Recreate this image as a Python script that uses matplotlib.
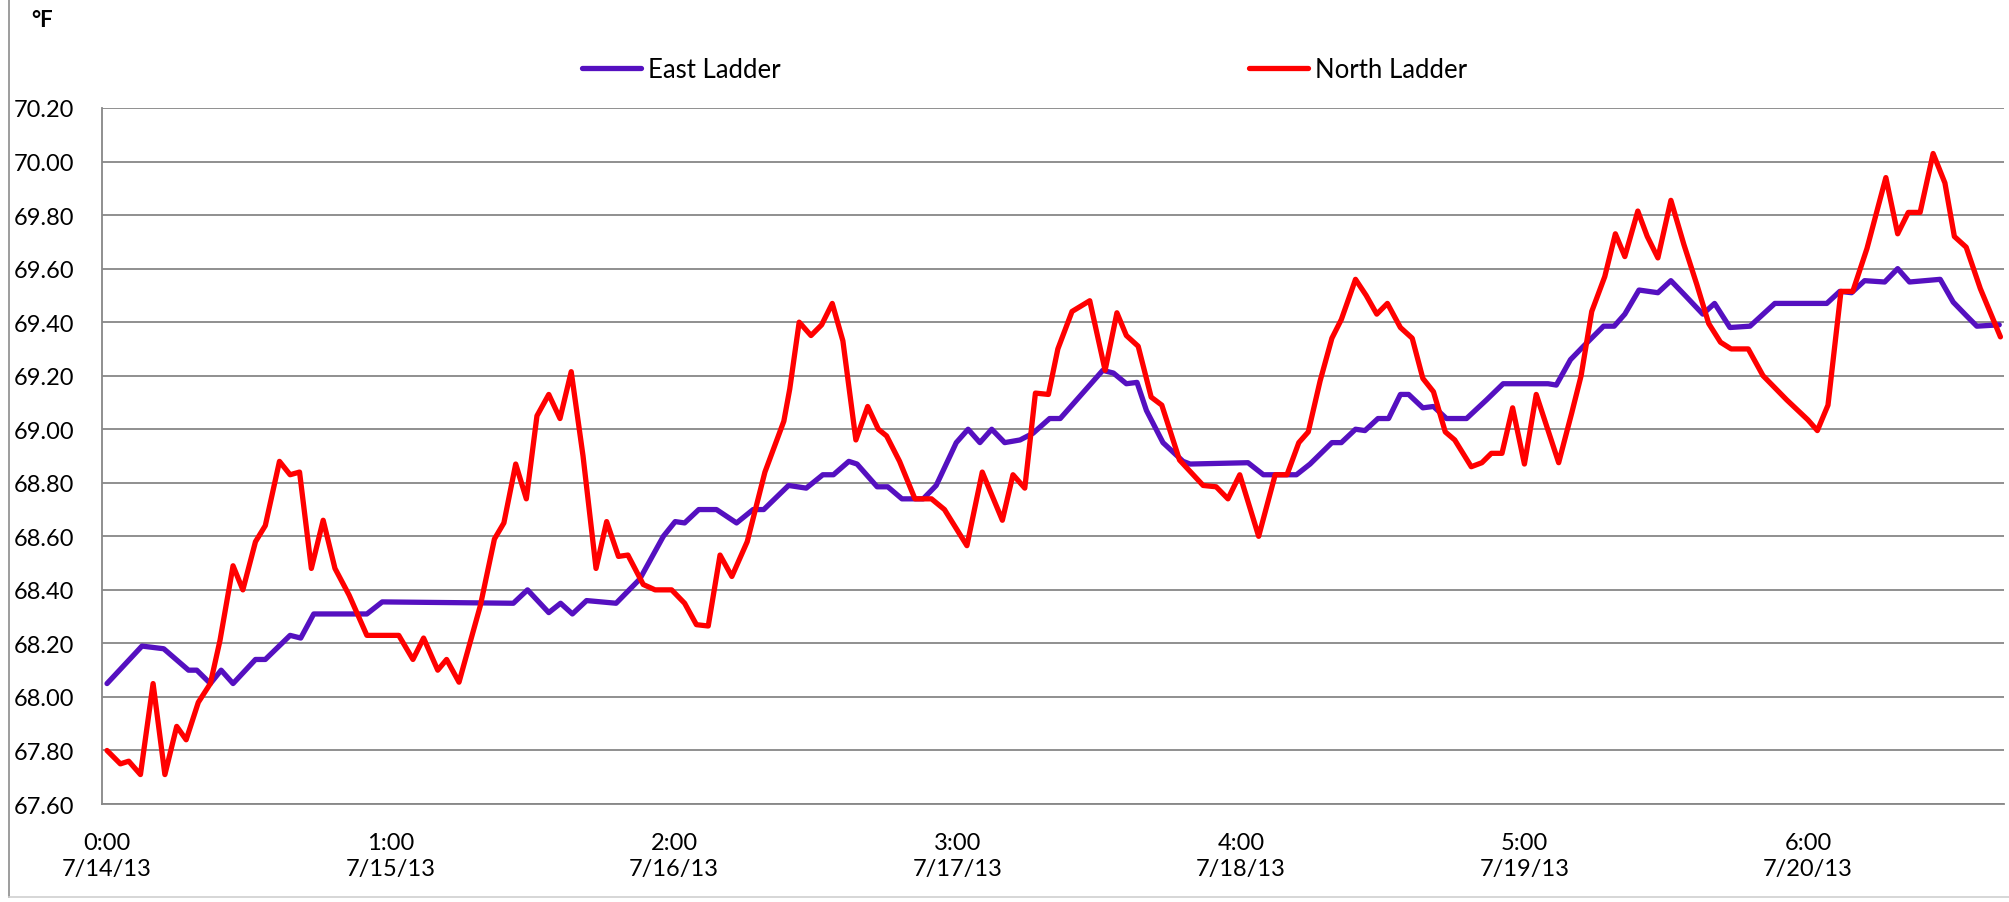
import matplotlib
matplotlib.use('Agg')
import matplotlib.pyplot as plt
from matplotlib.lines import Line2D

plt.rcParams['font.family'] = ['Lato', 'DejaVu Sans']

# hours since 7/14/13 0:00, temperature in deg F
east_hours = [0, 2.96, 4.8, 6.9, 7.6, 8.75, 9.66, 10.67, 12.57, 13.4, 15.5, 16.4, 17.5, 18.2,
              22.0, 23.3, 34.4, 35.6, 37.4, 38.4, 39.4, 40.6, 43.1, 45.1, 47.1, 48.1, 48.9,
              50.1, 51.6, 53.3, 54.7, 55.6, 57.7, 59.2, 60.6, 61.5, 62.8, 63.5, 65.2, 66.1,
              67.3, 69.1, 70.2, 71.9, 72.9, 73.9, 74.9, 76.0, 77.3, 78.4, 79.8, 80.7, 84.3,
              85.2, 86.3, 87.2, 88.0, 89.4, 91.1, 91.7, 96.6, 97.9, 100.7, 101.85, 103.7,
              104.5, 105.7, 106.5, 107.6, 108.5, 109.5, 110.2, 111.4, 112.3, 113.4, 115.1,
              116.8, 118.2, 122.0, 122.7, 123.9, 125.0, 126.7, 127.6, 128.5, 129.7, 131.3,
              132.4, 133.6, 135.1, 136.1, 137.4, 139.1, 141.2, 145.6, 146.7, 147.7, 148.8,
              150.5, 151.6, 152.6, 155.2, 156.3, 157.4, 158.3, 160.2]
east_temp = [68.05, 68.19, 68.18, 68.10, 68.10, 68.05, 68.10, 68.05, 68.14, 68.14, 68.23, 68.22,
             68.31, 68.31, 68.31, 68.355, 68.35, 68.40, 68.315, 68.35, 68.31, 68.36, 68.35,
             68.44, 68.60, 68.655, 68.65, 68.70, 68.70, 68.65, 68.70, 68.70, 68.79, 68.78,
             68.83, 68.83, 68.88, 68.87, 68.785, 68.785, 68.74, 68.74, 68.79, 68.95, 69.00,
             68.95, 69.00, 68.95, 68.96, 68.985, 69.04, 69.04, 69.22, 69.21, 69.17, 69.175,
             69.07, 68.95, 68.88, 68.87, 68.875, 68.83, 68.83, 68.87, 68.95, 68.95, 69.00,
             68.995, 69.04, 69.04, 69.13, 69.13, 69.08, 69.085, 69.04, 69.04, 69.11, 69.17,
             69.17, 69.165, 69.26, 69.31, 69.385, 69.385, 69.43, 69.52, 69.51, 69.555, 69.50,
             69.43, 69.47, 69.38, 69.385, 69.47, 69.47, 69.515, 69.51, 69.555, 69.55, 69.60,
             69.55, 69.56, 69.475, 69.425, 69.385, 69.39]

north_hours = [0, 1.13, 1.84, 2.83, 3.9, 4.9, 5.9, 6.7, 7.73, 8.75, 9.56, 10.67, 11.5, 12.57,
               13.4, 14.6, 15.5, 16.3, 17.3, 18.3, 19.3, 20.5, 22.0, 23.2, 24.7, 25.9, 26.8,
               28.0, 28.75, 29.8, 31.6, 32.8, 33.6, 34.6, 35.5, 36.4, 37.4, 38.35, 39.3, 40.3,
               41.4, 42.3, 43.3, 44.1, 45.4, 46.4, 47.8, 48.9, 49.9, 50.9, 51.9, 52.9, 54.2,
               55.7, 57.3, 57.8, 58.6, 59.6, 60.5, 61.4, 62.3, 63.4, 64.4, 65.3, 66.0, 67.1,
               68.4, 69.8, 70.9, 72.8, 74.1, 75.8, 76.7, 77.7, 78.6, 79.7, 80.5, 81.7, 83.2,
               84.5, 85.5, 86.3, 87.3, 88.4, 89.3, 90.8, 92.8, 93.9, 94.9, 95.9, 97.5, 98.9,
               99.9, 100.9, 101.7, 102.7, 103.7, 104.5, 105.7, 106.6, 107.5, 108.4, 109.5,
               110.5, 111.4, 112.3, 113.3, 114.1, 115.5, 116.4, 117.2, 118.1, 119.0, 120.0,
               121.0, 122.9, 124.0, 124.8, 125.7, 126.8, 127.7, 128.5, 129.6, 130.4, 131.3,
               132.4, 133.5, 134.6, 135.6, 136.6, 137.5, 138.95, 140.2, 142.2, 144.0, 144.8,
               145.7, 146.8, 147.8, 149.0, 150.6, 151.6, 152.5, 153.5, 154.6, 155.6, 156.4,
               157.4, 158.6, 160.3]
north_temp = [67.80, 67.75, 67.76, 67.71, 68.05, 67.71, 67.89, 67.84, 67.98, 68.05, 68.21, 68.49,
              68.40, 68.58, 68.64, 68.88, 68.83, 68.84, 68.48, 68.66, 68.48, 68.38, 68.23,
              68.23, 68.23, 68.14, 68.22, 68.10, 68.14, 68.055, 68.34, 68.59, 68.65, 68.87,
              68.74, 69.05, 69.13, 69.04, 69.215, 68.90, 68.48, 68.655, 68.525, 68.53, 68.42,
              68.40, 68.40, 68.35, 68.27, 68.265, 68.53, 68.45, 68.58, 68.84, 69.03, 69.15,
              69.40, 69.35, 69.39, 69.47, 69.33, 68.96, 69.085, 69.00, 68.975, 68.88, 68.74,
              68.74, 68.70, 68.565, 68.84, 68.66, 68.83, 68.78, 69.135, 69.13, 69.30, 69.44,
              69.48, 69.22, 69.435, 69.35, 69.31, 69.12, 69.09, 68.885, 68.79, 68.785, 68.74,
              68.83, 68.60, 68.83, 68.83, 68.95, 68.99, 69.18, 69.34, 69.41, 69.56, 69.50,
              69.43, 69.47, 69.38, 69.34, 69.19, 69.14, 68.99, 68.96, 68.86, 68.875, 68.91,
              68.91, 69.08, 68.87, 69.13, 68.875, 69.06, 69.20, 69.44, 69.57, 69.73, 69.645,
              69.815, 69.72, 69.64, 69.855, 69.69, 69.54, 69.395, 69.325, 69.30, 69.30, 69.20,
              69.11, 69.035, 68.995, 69.09, 69.515, 69.515, 69.675, 69.94, 69.73, 69.81,
              69.81, 70.03, 69.92, 69.72, 69.68, 69.525, 69.345]

tick_hours = [0, 24, 48, 72, 96, 120, 144]
tick_labels = ['0:00\n7/14/13', '1:00\n7/15/13', '2:00\n7/16/13', '3:00\n7/17/13',
               '4:00\n7/18/13', '5:00\n7/19/13', '6:00\n7/20/13']
y_ticks = [67.6 + 0.2 * i for i in range(14)]

east_color = '#5510C0'
north_color = '#FF0000'
grid_color = '#878787'

fig = plt.figure(figsize=(20.09, 9.03), dpi=100)
ax = fig.add_axes([0.0508, 0.1085, 0.9467, 0.7708])

ax.plot(east_hours, east_temp, color=east_color, lw=3.8, solid_joinstyle='round',
        solid_capstyle='round', zorder=3)
ax.plot(north_hours, north_temp, color=north_color, lw=3.8, solid_joinstyle='round',
        solid_capstyle='round', zorder=4)

ax.set_xlim(-0.42, 160.6)
ax.set_ylim(67.6, 70.2)
ax.set_yticks(y_ticks)
ax.set_yticklabels(['%.2f' % v for v in y_ticks])
ax.set_xticks(tick_hours)
ax.set_xticklabels(tick_labels, linespacing=1.3)
ax.tick_params(axis='y', length=0, pad=20, labelsize=17)
ax.tick_params(axis='x', length=0, pad=20, labelsize=17)
ax.grid(axis='y', color=grid_color, lw=1.3)
ax.set_axisbelow(True)
for s in ['top', 'right']:
    ax.spines[s].set_visible(False)
ax.spines['left'].set_color(grid_color)
ax.spines['left'].set_linewidth(1.3)
ax.spines['bottom'].set_color(grid_color)
ax.spines['bottom'].set_linewidth(1.3)

# chart area border (left and bottom visible)
fig.add_artist(Line2D([0.0045, 0.0045], [0.006, 1.0], transform=fig.transFigure,
                      color='#8c8c8c', lw=1.2))
fig.add_artist(Line2D([0.0045, 1.0], [0.006, 0.006], transform=fig.transFigure,
                      color='#d0d0d0', lw=1.2))

fig.text(0.0209, 0.9773, '°F', ha='center', va='center', fontsize=16, fontweight='bold')

# two legend entries placed separately, as in the original
for lx, col, name in [(582 / 2009, east_color, 'East Ladder'),
                      (1249 / 2009, north_color, 'North Ladder')]:
    h = Line2D([], [], color=col, lw=3.8, solid_capstyle='round')
    fig.legend([h], [name], loc='center left', bbox_to_anchor=(lx, 1 - 70 / 903),
               frameon=False, fontsize=18.5, handlelength=2.3, handletextpad=0.25,
               borderaxespad=0, borderpad=0)

fig.savefig('out.png', dpi=100)
